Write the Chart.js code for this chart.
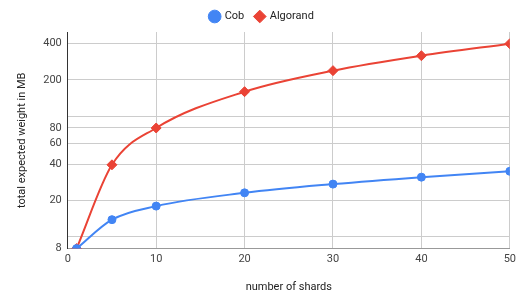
<!DOCTYPE html>
<html>
<head>
<meta charset="utf-8">
<script src="https://cdn.jsdelivr.net/npm/chart.js@4/dist/chart.umd.min.js"></script>
<style>
  html, body { margin: 0; padding: 0; background: #fff; }
  #wrap { width: 520px; height: 298px; position: relative; }
</style>
</head>
<body>
<div id="wrap"><canvas id="chart"></canvas></div>
<script>
// data
const shards = [1, 5, 10, 20, 30, 40, 50];
const cobWeight = [8, 13.9, 18, 23.2, 27.4, 31.3, 35];
const algorandWeight = [8, 39.6, 80, 160, 239, 318, 400];
const yGridValues = [8, 10, 20, 40, 60, 80, 100, 200, 400];
const yHiddenLabels = [10, 100];

const toPoints = (xs, ys) => xs.map((x, i) => ({ x: x, y: ys[i] }));

Chart.defaults.font.family = 'Roboto, Arial, sans-serif';
Chart.defaults.color = '#444';

new Chart(document.getElementById('chart'), {
    type: 'line',
    data: {
        datasets: [
            {
                label: 'Cob',
                data: toPoints(shards, cobWeight),
                borderColor: '#4285F4',
                backgroundColor: '#4285F4',
                borderWidth: 2,
                pointStyle: 'circle',
                pointRadius: 4,
                pointBorderWidth: 1,
                pointHoverRadius: 4,
                cubicInterpolationMode: 'monotone',
                fill: false
            },
            {
                label: 'Algorand',
                data: toPoints(shards, algorandWeight),
                borderColor: '#EA4335',
                backgroundColor: '#EA4335',
                borderWidth: 2,
                pointStyle: 'rectRot',
                pointRadius: 5,
                pointBorderWidth: 1,
                pointHoverRadius: 5,
                cubicInterpolationMode: 'monotone',
                fill: false
            }
        ]
    },
    options: {
        responsive: true,
        maintainAspectRatio: false,
        animation: false,
        layout: { padding: { left: 12, right: 8, top: 0, bottom: 2 } },
        plugins: {
            legend: {
                position: 'top',
                labels: {
                    usePointStyle: true,
                    boxWidth: 9,
                    boxHeight: 9,
                    padding: 11,
                    color: '#222',
                    font: { size: 11 }
                }
            },
            tooltip: { enabled: false }
        },
        scales: {
            x: {
                type: 'linear',
                min: 0,
                max: 50,
                ticks: { stepSize: 10, color: '#444', font: { size: 11 }, padding: 4 },
                grid: { color: '#ccc', drawTicks: false },
                border: { color: '#999' },
                title: { display: true, text: 'number of shards', color: '#222', font: { size: 11 }, padding: { top: 11, bottom: 2 } }
            },
            y: {
                type: 'logarithmic',
                min: 8,
                max: 500,
                afterBuildTicks: (axis) => {
                    axis.ticks = yGridValues.map(v => ({ value: v }));
                },
                ticks: {
                    color: '#444',
                    font: { size: 11 },
                    autoSkip: false,
                    padding: 6,
                    callback: (v) => yHiddenLabels.includes(v) ? '' : String(v)
                },
                grid: { color: '#ccc', drawTicks: false },
                border: { color: '#333' },
                title: { display: true, text: 'total expected weight in MB', color: '#222', font: { size: 11 }, padding: { bottom: 8 } }
            }
        }
    }
});
</script>
</body>
</html>
